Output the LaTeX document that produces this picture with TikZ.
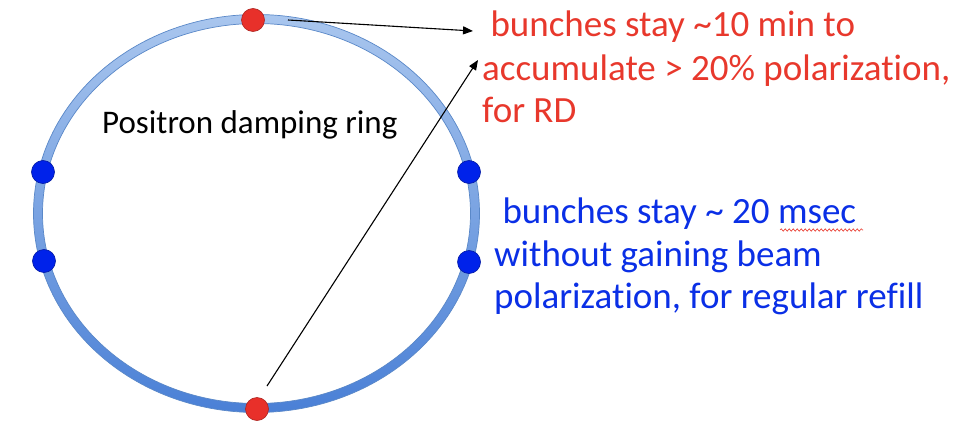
\documentclass[tikz,border=0pt]{standalone}
\usepackage{fontspec}
\setmainfont{Carlito}[Ligatures=NoCommon]
\usetikzlibrary{arrows.meta,decorations.pathmorphing}
\definecolor{ringtop}{HTML}{A9C6EE}
\definecolor{ringbot}{HTML}{4A80D6}
\definecolor{ringedge}{HTML}{5A88C8}
\definecolor{txtred}{HTML}{E8382C}
\definecolor{dotred}{HTML}{E8302A}
\definecolor{txtblue}{HTML}{0A2FE6}
\definecolor{dotblue}{HTML}{0022EA}
\tikzset{
  bdot/.style={circle, fill=dotblue, draw=dotblue!70!black, line width=0.6pt, minimum size=23pt, inner sep=0pt},
  rdot/.style={circle, fill=dotred, draw=dotred!75!black, line width=0.6pt, minimum size=23pt, inner sep=0pt},
  redtxt/.style={text=txtred, font=\fontsize{37}{43}\selectfont, anchor=base west, inner sep=0pt},
  bluetxt/.style={text=txtblue, font=\fontsize{37}{43}\selectfont, anchor=base west, inner sep=0pt},
  ringtxt/.style={text=black, font=\fontsize{33}{38}\selectfont, anchor=base west, inner sep=0pt},
  pointer/.style={-{Triangle[length=10pt,width=8pt]}, line width=1.1pt, black},
  spell/.style={txtred, line width=0.6pt, decorate, decoration={snake, amplitude=1.2pt, segment length=4pt}}
}
\begin{document}
\begin{tikzpicture}[x=1pt,y=-1pt]
\useasboundingbox[fill=white] (0,0) rectangle (976,425);
\coordinate (c) at (256.5,213.5);
% ring
\shade[top color=ringtop, bottom color=ringbot, even odd rule]
  (c) ellipse [x radius=223pt, y radius=199pt]
  (c) ellipse [x radius=214pt, y radius=190pt];
\draw[ringedge, line width=0.7pt] (c) ellipse [x radius=223pt, y radius=199pt];
\draw[ringedge, line width=0.7pt] (c) ellipse [x radius=214pt, y radius=190pt];
% dots
\node[rdot] (top) at (253,20) {};
\node[rdot] (bot) at (257,409) {};
\node[bdot] (l1) at (43,172) {};
\node[bdot] (l2) at (44,261) {};
\node[bdot] (r1) at (469,172) {};
\node[bdot] (r2) at (469,262) {};
% label
\node[ringtxt] (lab) at (102,133) {Positron damping ring};
% red text
\node[redtxt] (t1) at (482,37) {\ bunches stay \textasciitilde 10 min to};
\node[redtxt] (t2) at (482,81) {accumulate > 20\% polarization,};
\node[redtxt] (t3) at (482,123) {for RD};
% blue text
\node[bluetxt] (b1) at (494,223) {\ bunches stay \textasciitilde\ 20 msec};
\node[bluetxt] (b2) at (494,266) {without gaining beam};
\node[bluetxt] (b3) at (494,308) {polarization, for regular refill};
% arrows
\coordinate (a1s) at (288,20);
\coordinate (a1e) at (473,31);
\coordinate (a2s) at (267,386);
\coordinate (a2e) at (478,60);
\draw[pointer] (a1s) -- (a1e);
\draw[pointer] (a2s) -- (a2e);
% spell-check underline
\coordinate (w1) at (780,230);
\coordinate (w2) at (863,230);
\draw[spell] (w1) -- (w2);
\end{tikzpicture}
\end{document}
